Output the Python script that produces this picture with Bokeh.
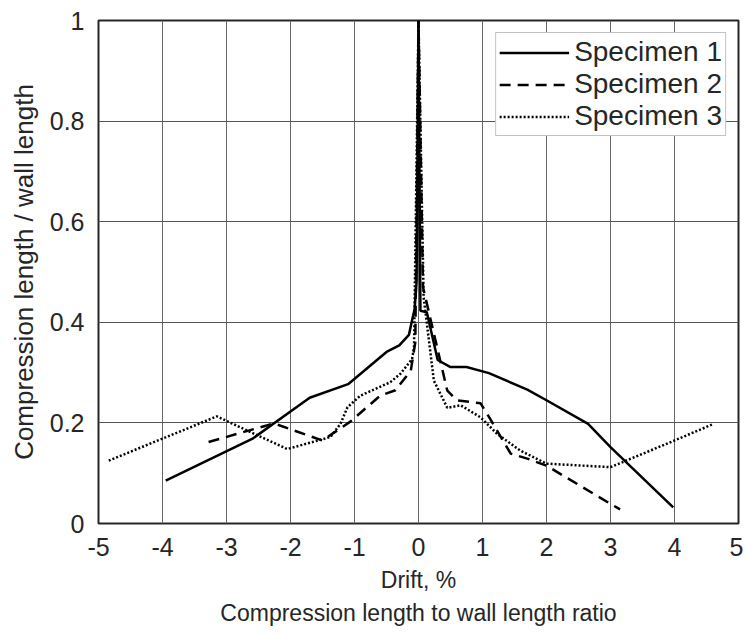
from bokeh.plotting import figure
from bokeh.models import FixedTicker, NumeralTickFormatter, Range1d
from bokeh.embed import file_html
from bokeh.resources import INLINE

# ---- data ----
drift_s1 = [-3.95, -2.6, -1.7, -1.1, -0.5, -0.3, -0.15, -0.1, -0.06, -0.03, 0.0,
            0.03, 0.13, 0.3, 0.5, 0.75, 1.1, 1.7, 2.0, 2.65, 3.0, 3.98]
ratio_s1 = [0.085, 0.168, 0.25, 0.277, 0.341, 0.354, 0.375, 0.404, 0.427, 0.48, 1.0,
            0.423, 0.42, 0.325, 0.311, 0.311, 0.299, 0.266, 0.245, 0.198, 0.152, 0.032]

drift_s2 = [-3.28, -2.26, -1.5, -1.06, -0.6, -0.36, -0.12, -0.05, 0.0,
            0.07, 0.45, 0.6, 0.97, 1.12, 1.44, 1.7, 2.0, 3.0, 3.15]
ratio_s2 = [0.162, 0.199, 0.165, 0.203, 0.254, 0.265, 0.304, 0.36, 1.0,
            0.47, 0.264, 0.245, 0.239, 0.208, 0.139, 0.129, 0.115, 0.039, 0.028]

drift_s3 = [-4.84, -3.15, -2.68, -2.05, -1.375, -1.22, -1.11, -0.91, -0.44, -0.28, -0.1, -0.07, 0.0,
            0.08, 0.24, 0.45, 0.66, 0.97, 1.23, 1.59, 2.0, 3.0, 4.0, 4.61]
ratio_s3 = [0.125, 0.213, 0.185, 0.148, 0.172, 0.198, 0.231, 0.254, 0.281, 0.298, 0.327, 0.35, 1.0,
            0.45, 0.284, 0.230, 0.235, 0.211, 0.178, 0.145, 0.119, 0.112, 0.165, 0.198]

x_ticks = [-5, -4, -3, -2, -1, 0, 1, 2, 3, 4, 5]
y_ticks = [0, 0.2, 0.4, 0.6, 0.8, 1]

FONT = "Liberation Sans"
TXT = "#262626"

p = figure(width=743, height=630, output_backend="svg", toolbar_location=None,
           x_range=Range1d(-5, 5), y_range=Range1d(0, 1),
           title="Compression length to wall length ratio", title_location="below",
           min_border_left=98, min_border_right=5, min_border_top=20, min_border_bottom=107)
p.frame_width = 640
p.frame_height = 503

p.title.align = "center"
p.title.text_font = FONT
p.title.text_font_size = "23px"
p.title.text_font_style = "normal"
p.title.text_color = TXT
p.title.standoff = 4

p.outline_line_color = TXT
p.outline_line_width = 2
p.outline_line_alpha = 1
p.background_fill_color = "white"
p.border_fill_color = "white"

p.xaxis.ticker = FixedTicker(ticks=x_ticks)
p.yaxis.ticker = FixedTicker(ticks=y_ticks)
p.xaxis.formatter = NumeralTickFormatter(format="0")
p.yaxis.formatter = NumeralTickFormatter(format="0.[0]")
p.xaxis.axis_label = "Drift, %"
p.yaxis.axis_label = "Compression length / wall length"
for ax in (p.xaxis, p.yaxis):
    ax.axis_line_color = None
    ax.major_tick_line_color = None
    ax.minor_tick_line_color = None
    ax.major_label_text_font = FONT
    ax.major_label_text_font_size = "25px"
    ax.major_label_text_color = TXT
    ax.axis_label_text_font = FONT
    ax.axis_label_text_font_style = "normal"
    ax.axis_label_text_color = TXT
    ax.major_label_standoff = 8
    ax.axis_label_standoff = 8
p.xaxis.axis_label_text_font_size = "23px"
p.yaxis.axis_label_text_font_size = "26px"

p.xgrid.grid_line_color = "#666666"
p.ygrid.grid_line_color = "#555555"
p.xgrid.grid_line_width = 1
p.ygrid.grid_line_width = 1

p.line(drift_s1, ratio_s1, line_color="black", line_width=2.5, legend_label="Specimen 1")
p.line(drift_s2, ratio_s2, line_color="black", line_width=2.5, line_dash="11 7",
       legend_label="Specimen 2")
p.line(drift_s3, ratio_s3, line_color="black", line_width=2.5, line_dash="2 2",
       legend_label="Specimen 3")

lg = p.legend[0]
lg.location = "top_right"
lg.margin = 12
lg.padding = 3
lg.spacing = -3
lg.glyph_width = 70
lg.glyph_height = 29
lg.label_height = 29
lg.label_standoff = 5
lg.label_text_font = FONT
lg.label_text_font_size = "28px"
lg.label_text_color = TXT
lg.border_line_color = "#888888"
lg.border_line_width = 1
lg.background_fill_color = "white"
lg.background_fill_alpha = 1

open("out.html", "w").write(file_html(p, INLINE))
